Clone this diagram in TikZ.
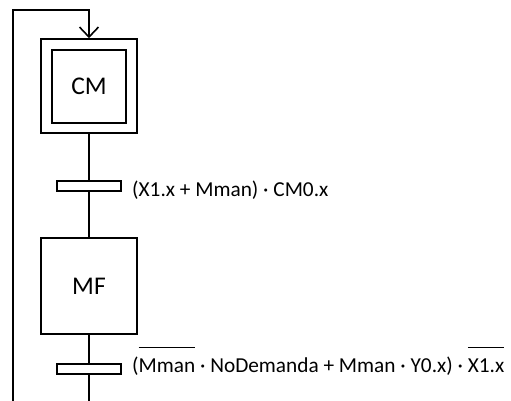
\documentclass[tikz,border=0pt]{standalone}
\usepackage{fontspec}
\setmainfont{Carlito}
\usetikzlibrary{arrows.meta}
\newsavebox\ovlbox
\newcommand\myovl[1]{\sbox\ovlbox{#1}\rlap{\rule[23.6pt]{\wd\ovlbox}{1.4pt}}\usebox\ovlbox}
\tikzset{
  line/.style={line width=1.6pt, draw=black},
  stepbox/.style={line, rectangle, fill=white, inner sep=0pt, font=\fontsize{25.5}{30}\selectfont},
  transbar/.style={line, rectangle, fill=white, inner sep=0pt, minimum width=64pt, minimum height=10pt},
  cond/.style={anchor=base west, inner sep=0pt, font=\fontsize{21.3}{25}\selectfont},
}
\begin{document}
\begin{tikzpicture}[x=1pt,y=-1pt]
\useasboundingbox (0,0) rectangle (511,401);
\node[stepbox, minimum width=96pt, minimum height=94pt] (cmouter) at (89,86) {};
\node[stepbox, minimum width=74pt, minimum height=73pt] (cminner) at (89,86.5) {CM};
\node[transbar] (t1) at (89,186) {};
\node[stepbox, minimum width=96pt, minimum height=96pt] (mf) at (89,286) {MF};
\node[transbar] (t2) at (89,369) {};
\coordinate (bottom) at (89,401);
\coordinate (loopstart) at (13,401);
\coordinate (loopturn) at (13,10);
\coordinate (looptop) at (89,10);
\draw[line] (cmouter.south) -- (t1.north);
\draw[line] (t1.south) -- (mf.north);
\draw[line] (mf.south) -- (t2.north);
\draw[line] (t2.south) -- (bottom);
\draw[line, -{Straight Barb[length=10pt,width=19pt]}] (loopstart) -- (loopturn) -- (looptop) -- (cmouter.north);
\node[cond] (c1) at (132,196) {(X1.x + Mman) · CM0.x};
\node[cond] (c2) at (132,372) {(\myovl{Mman} · NoDemanda + Mman · Y0.x) · \myovl{X1.x}};
\end{tikzpicture}
\end{document}
